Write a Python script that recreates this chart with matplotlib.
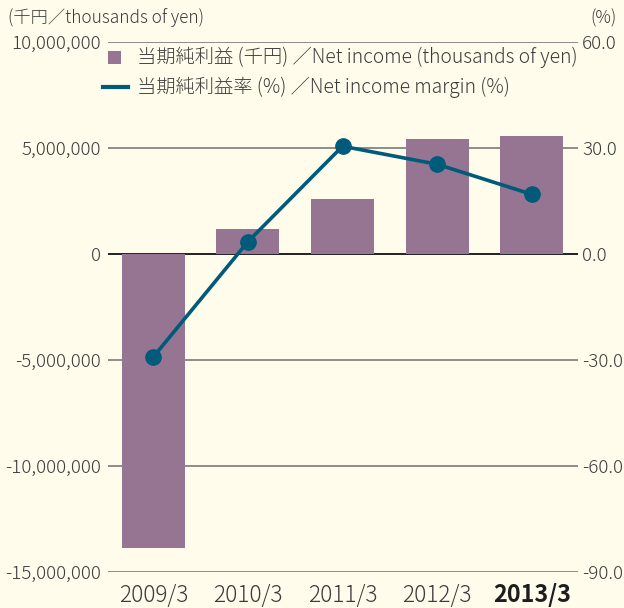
import matplotlib
matplotlib.use("Agg")
import matplotlib.pyplot as plt
from matplotlib.ticker import FuncFormatter
from matplotlib.patches import Rectangle
from matplotlib.lines import Line2D

plt.rcParams['font.family'] = ['Noto Sans CJK JP', 'DejaVu Sans']
plt.rcParams['font.weight'] = 'light'

years = ["2009/3", "2010/3", "2011/3", "2012/3", "2013/3"]
net_income = [-13870000, 1180000, 2590000, 5420000, 5580000]   # thousands of yen
margin = [-29.1, 3.5, 30.5, 25.4, 16.9]                         # %
left_ticks = [10000000, 5000000, 0, -5000000, -10000000, -15000000]
right_ticks = [60.0, 30.0, 0.0, -30.0, -60.0, -90.0]

bg = "#FFFCEB"
bar_color = "#957592"
line_color = "#005A7A"
grid_color = "#8C8C8C"
text_color = "#3C3C3C"

W, H = 624, 608
fig = plt.figure(figsize=(6.24, 6.08), dpi=100, facecolor=bg)
ax = fig.add_axes([108/W, 1-572/H, 470/W, 530/H])
ax.set_facecolor(bg)
ax2 = ax.twinx()

x = list(range(len(years)))
ax.bar(x, net_income, width=0.667, color=bar_color, zorder=2)
ax.set_ylim(-15000000, 10000000)
ax.set_xlim(-0.48, 4.49)
ax.set_yticks(left_ticks)
ax.yaxis.set_major_formatter(FuncFormatter(lambda v, p: f"{int(v):,}"))

for t in left_ticks:
    ax.axhline(t, color=("#222222" if t == 0 else grid_color), lw=1.4, zorder=1)

ax2.plot(x, margin, color=line_color, lw=2.6, marker="o", markersize=11, zorder=3)
ax2.set_ylim(-90, 60)
ax2.set_yticks(right_ticks)
ax2.yaxis.set_major_formatter(FuncFormatter(lambda v, p: f"{v:.1f}"))

for a in (ax, ax2):
    for s in a.spines.values():
        s.set_visible(False)
    a.tick_params(axis="y", length=0, labelsize=13.5, labelcolor=text_color, pad=5)
ax2.tick_params(axis="y", pad=3)

ax.set_xticks(x)
ax.set_xticklabels(years)
ax.tick_params(axis="x", length=0, labelsize=16.3, labelcolor=text_color, pad=8)
last = ax.get_xticklabels()[-1]
last.set_fontweight("bold")
last.set_color("#1E1E1E")
last.set_fontsize(16.8)

fig.text(8/W, 1-18/H, "(千円／thousands of yen)", fontsize=12.4, color=text_color,
         ha="left", va="center")
fig.text(617/W, 1-18/H, "(%)", fontsize=12.4, color=text_color, ha="right", va="center")

# legend drawn manually
fig.add_artist(Rectangle((108/W, 1-64/H), 13/W, 13/H, transform=fig.transFigure,
                         facecolor=bar_color, edgecolor="none"))
fig.add_artist(Line2D([103/W, 128/W], [1-87/H, 1-87/H], transform=fig.transFigure,
                      color=line_color, lw=3))
fig.text(137/W, 1-57/H, "当期純利益 (千円) ／Net income (thousands of yen)",
         fontsize=13.9, color=text_color, ha="left", va="center")
fig.text(137/W, 1-87/H, "当期純利益率 (%) ／Net income margin (%)",
         fontsize=13.9, color=text_color, ha="left", va="center")

fig.savefig("out.png", dpi=100, facecolor=bg)
